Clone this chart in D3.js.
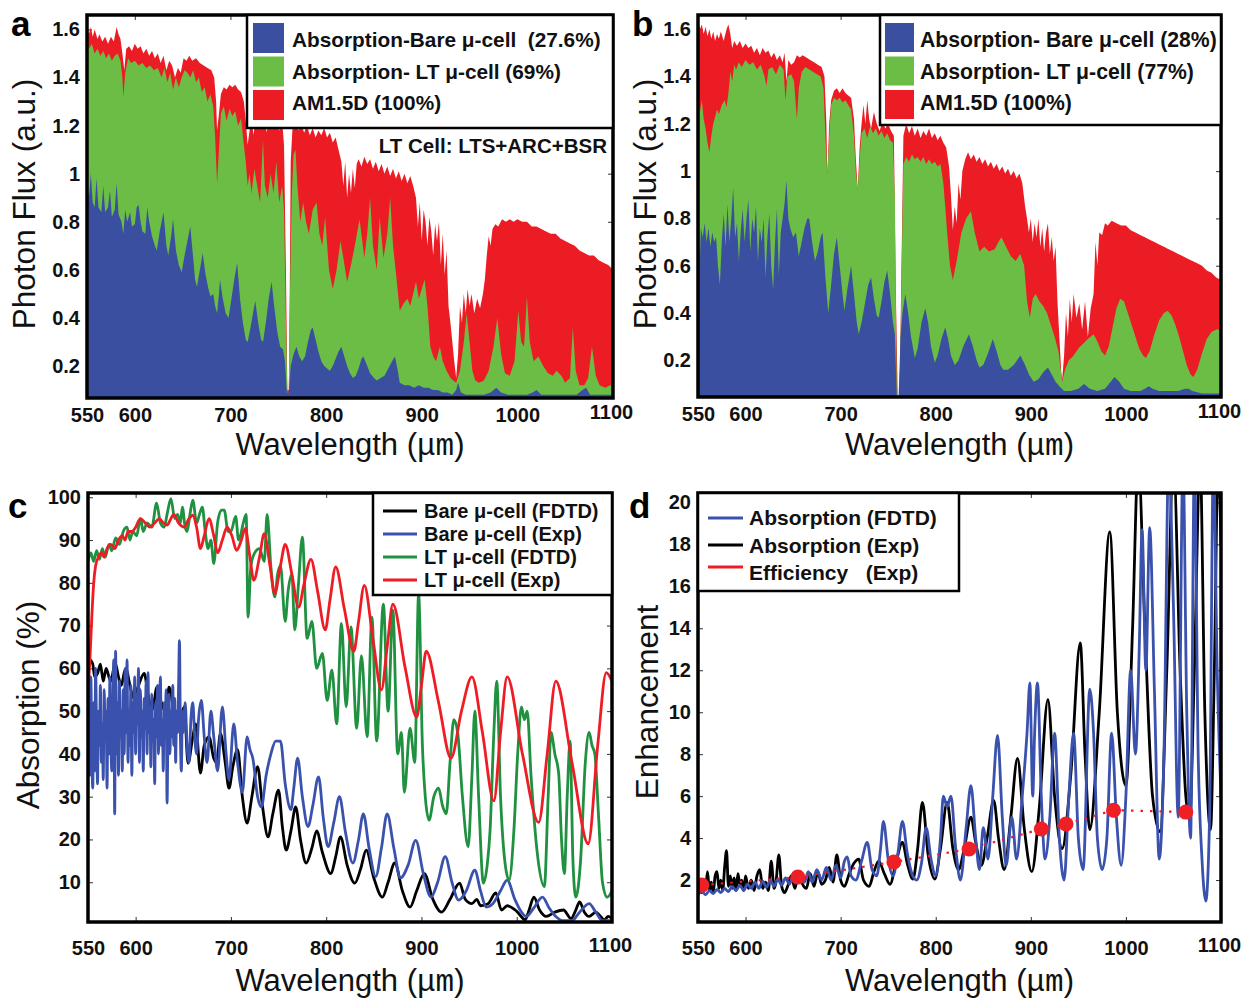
<!DOCTYPE html>
<html>
<head>
<meta charset="utf-8">
<script src="https://cdn.jsdelivr.net/npm/d3@7"></script>
<style>
  body { margin: 0; background: #fff; }
  text { font-family: Arial, "Liberation Sans", sans-serif; }
</style>
</head>
<body>
<script>
// ---------- tick values ----------
const xTickVals = [550, 600, 700, 800, 900, 1000, 1100];
const yTicksAB = [0.2, 0.4, 0.6, 0.8, 1, 1.2, 1.4, 1.6];
const yTicksC = [10, 20, 30, 40, 50, 60, 70, 80, 90, 100];
const yTicksD = [2, 4, 6, 8, 10, 12, 14, 16, 18, 20];

// ---------- panel a: photon flux [wavelength nm, flux a.u.] ----------
const am15A = [[550,1.63],[552,1.58],[554,1.61],[556,1.57],[558,1.60],[561,1.56],[563,1.58],[566,1.55],[569,1.57],[572,1.54],[575,1.57],[578,1.55],[581,1.61],[583,1.58],[585,1.56],[587,1.50],[589,1.43],[591,1.52],[594,1.53],[597,1.51],[600,1.54],[603,1.52],[606,1.53],[609,1.50],[612,1.52],[615,1.49],[618,1.51],[621,1.48],[624,1.50],[627,1.46],[630,1.49],[633,1.43],[636,1.47],[639,1.45],[642,1.40],[645,1.44],[648,1.42],[651,1.48],[654,1.47],[657,1.49],[660,1.47],[664,1.48],[668,1.46],[672,1.45],[676,1.44],[680,1.43],[683,1.40],[685,1.30],[686,1.18],[688,1.25],[690,1.33],[693,1.36],[696,1.35],[699,1.37],[702,1.36],[705,1.37],[708,1.35],[711,1.34],[714,1.30],[716,1.22],[718,1.12],[720,1.18],[722,1.24],[724,1.16],[726,1.22],[728,1.28],[730,1.20],[732,1.25],[734,1.30],[736,1.22],[738,1.17],[740,1.24],[742,1.20],[745,1.26],[748,1.21],[751,1.18],[754,1.22],[756,1.12],[758,0.60],[759.5,0.10],[761,0.10],[762,0.50],[763,1.05],[765,1.20],[768,1.25],[771,1.18],[774,1.21],[777,1.17],[780,1.20],[783,1.16],[786,1.19],[789,1.15],[792,1.18],[795,1.16],[798,1.19],[801,1.15],[804,1.17],[807,1.13],[810,1.15],[813,1.10],[816,1.05],[818,0.95],[820,1.05],[822,0.90],[824,1.00],[826,0.92],[828,1.02],[830,0.94],[832,1.04],[834,1.06],[837,1.03],[840,1.07],[843,1.04],[846,1.06],[849,1.02],[852,1.05],[855,1.01],[858,1.04],[861,1.00],[864,1.03],[867,0.99],[870,1.02],[873,0.98],[876,1.01],[879,0.97],[882,1.00],[885,0.96],[888,0.99],[891,0.95],[894,0.90],[896,0.78],[898,0.88],[900,0.72],[902,0.85],[904,0.80],[906,0.70],[908,0.82],[910,0.76],[912,0.66],[914,0.79],[916,0.72],[918,0.80],[920,0.62],[922,0.75],[924,0.58],[926,0.68],[928,0.45],[930,0.38],[932,0.30],[934,0.22],[936,0.15],[938,0.25],[940,0.45],[942,0.38],[944,0.50],[946,0.42],[948,0.52],[950,0.45],[952,0.50],[955,0.42],[958,0.48],[961,0.44],[964,0.50],[966,0.56],[968,0.66],[970,0.74],[972,0.70],[974,0.77],[977,0.79],[980,0.78],[984,0.81],[988,0.80],[992,0.81],[996,0.80],[1000,0.81],[1005,0.80],[1010,0.80],[1015,0.78],[1020,0.78],[1025,0.77],[1030,0.76],[1035,0.75],[1040,0.75],[1045,0.73],[1050,0.72],[1055,0.71],[1060,0.70],[1065,0.68],[1070,0.67],[1075,0.66],[1080,0.66],[1085,0.64],[1090,0.63],[1095,0.62],[1100,0.60]];

const ltA = [[550,1.56],[552,1.52],[555,1.54],[558,1.50],[561,1.52],[564,1.49],[567,1.51],[570,1.48],[573,1.50],[576,1.47],[579,1.49],[582,1.50],[585,1.47],[587,1.40],[588,1.32],[590,1.42],[593,1.48],[596,1.46],[600,1.47],[604,1.45],[608,1.46],[612,1.44],[616,1.45],[620,1.43],[624,1.44],[628,1.40],[631,1.44],[634,1.38],[637,1.42],[640,1.35],[643,1.40],[646,1.36],[649,1.40],[652,1.43],[655,1.42],[658,1.40],[661,1.43],[664,1.38],[667,1.40],[670,1.34],[673,1.36],[676,1.30],[679,1.33],[682,1.28],[684,1.15],[686,0.96],[688,1.10],[690,1.25],[693,1.28],[696,1.22],[699,1.27],[702,1.24],[705,1.26],[708,1.20],[711,1.23],[714,1.12],[716,1.05],[718,0.95],[720,1.00],[722,0.92],[725,1.02],[728,0.95],[731,0.88],[734,1.14],[736,0.95],[739,0.90],[742,1.00],[745,0.92],[748,1.05],[751,0.88],[754,0.95],[756,0.85],[758,0.40],[759.5,0.09],[761,0.09],[762,0.45],[764,0.90],[766,1.08],[768,1.10],[770,0.95],[773,0.80],[776,0.88],[779,0.80],[782,0.75],[786,0.85],[790,0.88],[793,0.75],[796,0.70],[799,0.82],[803,0.60],[807,0.52],[811,0.60],[815,0.72],[818,0.65],[822,0.55],[826,0.62],[830,0.70],[835,0.81],[840,0.65],[843,0.75],[846,0.90],[849,0.70],[853,0.60],[856,0.82],[860,0.65],[864,0.75],[867,0.90],[870,0.70],[874,0.55],[877,0.43],[881,0.46],[885,0.48],[888,0.45],[891,0.50],[894,0.55],[897,0.48],[900,0.52],[903,0.56],[906,0.45],[909,0.28],[912,0.24],[915,0.22],[919,0.28],[922,0.22],[926,0.18],[930,0.15],[933,0.14],[936,0.13],[940,0.18],[944,0.30],[947,0.42],[950,0.30],[953,0.18],[956,0.14],[960,0.13],[965,0.14],[970,0.18],[975,0.28],[979,0.40],[983,0.25],[987,0.17],[992,0.16],[997,0.22],[1001,0.43],[1004,0.30],[1007,0.28],[1010,0.49],[1013,0.30],[1017,0.22],[1022,0.24],[1027,0.20],[1032,0.17],[1037,0.16],[1041,0.18],[1046,0.16],[1050,0.13],[1055,0.15],[1058,0.36],[1061,0.18],[1065,0.12],[1070,0.12],[1074,0.15],[1078,0.28],[1082,0.16],[1086,0.12],[1092,0.11],[1097,0.12],[1100,0.12]];

const bareA = [[550,0.97],[552,0.90],[554,1.00],[556,0.88],[558,0.86],[560,0.98],[562,0.86],[565,0.84],[567,0.95],[569,0.84],[572,0.86],[574,0.93],[576,0.82],[579,0.85],[581,0.96],[583,0.83],[586,0.80],[588,0.75],[590,0.85],[592,0.80],[595,0.84],[597,0.78],[600,0.79],[602,0.86],[604,0.87],[606,0.80],[608,0.76],[611,0.75],[613,0.86],[615,0.80],[618,0.74],[621,0.70],[623,0.68],[626,0.76],[630,0.84],[633,0.70],[635,0.66],[638,0.74],[640,0.81],[643,0.68],[646,0.62],[649,0.59],[652,0.66],[655,0.72],[658,0.78],[661,0.65],[663,0.56],[665,0.53],[668,0.60],[671,0.67],[674,0.58],[677,0.52],[679,0.49],[682,0.50],[684,0.45],[686,0.42],[688,0.50],[689,0.56],[692,0.48],[695,0.42],[698,0.40],[701,0.48],[704,0.56],[707,0.63],[710,0.48],[713,0.38],[716,0.31],[718,0.30],[721,0.36],[724,0.43],[726,0.47],[729,0.38],[732,0.31],[734,0.30],[737,0.38],[740,0.48],[743,0.55],[746,0.44],[749,0.34],[752,0.28],[755,0.27],[757,0.22],[759,0.09],[761,0.09],[763,0.20],[766,0.25],[769,0.28],[772,0.24],[775,0.22],[778,0.24],[781,0.30],[784,0.35],[786,0.36],[789,0.31],[792,0.26],[795,0.22],[798,0.20],[801,0.19],[804,0.18],[807,0.20],[810,0.23],[813,0.26],[816,0.28],[819,0.24],[822,0.20],[825,0.17],[828,0.15],[831,0.16],[834,0.19],[837,0.23],[839,0.24],[842,0.21],[846,0.17],[850,0.15],[853,0.14],[857,0.15],[861,0.16],[865,0.19],[869,0.22],[872,0.24],[875,0.18],[877,0.13],[882,0.12],[887,0.12],[892,0.11],[897,0.12],[902,0.11],[907,0.11],[912,0.10],[917,0.10],[922,0.09],[927,0.09],[932,0.08],[936,0.10],[938,0.13],[941,0.09],[946,0.08],[955,0.08],[965,0.08],[972,0.09],[978,0.11],[983,0.09],[990,0.08],[1000,0.08],[1010,0.08],[1016,0.09],[1020,0.10],[1025,0.08],[1035,0.08],[1045,0.08],[1055,0.08],[1062,0.08],[1068,0.10],[1072,0.11],[1076,0.08],[1085,0.08],[1100,0.08]];

// ---------- panel b ----------
const am15B = [[550,1.64],[552,1.60],[554,1.62],[556,1.58],[558,1.61],[560,1.57],[562,1.60],[564,1.56],[566,1.59],[568,1.55],[570,1.58],[572,1.56],[574,1.59],[577,1.55],[580,1.60],[582,1.62],[584,1.58],[586,1.52],[588,1.55],[591,1.53],[594,1.55],[597,1.52],[600,1.54],[603,1.52],[606,1.53],[609,1.50],[612,1.52],[615,1.49],[618,1.52],[621,1.50],[624,1.51],[627,1.48],[630,1.50],[633,1.47],[636,1.49],[639,1.46],[641,1.50],[643,1.38],[645,1.47],[648,1.45],[651,1.46],[654,1.49],[657,1.48],[660,1.49],[664,1.48],[668,1.47],[672,1.46],[676,1.45],[680,1.44],[683,1.40],[685,1.20],[686,0.98],[688,1.20],[690,1.30],[693,1.34],[696,1.35],[699,1.33],[702,1.35],[705,1.33],[708,1.32],[711,1.31],[714,1.22],[716,1.05],[718,0.92],[720,1.10],[722,1.20],[724,1.28],[726,1.20],[728,1.30],[730,1.22],[732,1.18],[735,1.25],[738,1.20],[741,1.17],[744,1.21],[747,1.18],[750,1.20],[753,1.17],[756,1.15],[758,0.50],[760,0.05],[762,0.05],[764,0.60],[766,1.15],[769,1.20],[772,1.16],[775,1.19],[778,1.15],[781,1.18],[784,1.14],[787,1.17],[790,1.15],[793,1.18],[796,1.14],[799,1.16],[802,1.13],[805,1.15],[808,1.12],[811,1.10],[814,1.02],[816,0.90],[818,0.75],[820,0.85],[822,0.78],[824,0.95],[826,0.88],[828,1.00],[831,1.05],[834,1.08],[837,1.05],[840,1.07],[843,1.04],[846,1.06],[849,1.03],[852,1.05],[855,1.02],[858,1.04],[861,1.01],[864,1.03],[867,1.00],[870,1.02],[873,0.99],[876,1.01],[879,0.98],[882,1.00],[885,0.97],[888,0.99],[891,0.95],[894,0.85],[896,0.80],[898,0.74],[900,0.80],[902,0.70],[904,0.78],[906,0.72],[908,0.80],[910,0.68],[912,0.76],[914,0.66],[916,0.74],[918,0.78],[920,0.65],[922,0.72],[924,0.62],[926,0.68],[928,0.45],[930,0.30],[932,0.15],[933,0.12],[935,0.22],[937,0.40],[939,0.30],[941,0.46],[943,0.36],[945,0.48],[948,0.38],[951,0.44],[954,0.33],[957,0.45],[960,0.30],[963,0.42],[966,0.48],[968,0.70],[970,0.60],[972,0.74],[975,0.73],[978,0.78],[981,0.77],[985,0.79],[990,0.78],[995,0.77],[1000,0.77],[1005,0.75],[1010,0.74],[1015,0.73],[1020,0.72],[1025,0.71],[1030,0.70],[1035,0.69],[1040,0.68],[1045,0.67],[1050,0.66],[1055,0.65],[1060,0.64],[1065,0.63],[1070,0.62],[1075,0.61],[1080,0.60],[1085,0.58],[1090,0.57],[1095,0.55],[1100,0.54]];

const ltB = [[550,1.28],[552,1.25],[554,1.30],[556,1.22],[558,1.18],[560,1.12],[562,1.08],[564,1.15],[566,1.20],[568,1.23],[570,1.26],[572,1.24],[575,1.28],[578,1.30],[580,1.27],[582,1.33],[584,1.42],[586,1.38],[588,1.45],[590,1.43],[593,1.46],[596,1.44],[600,1.47],[604,1.45],[608,1.46],[612,1.43],[616,1.45],[620,1.40],[622,1.36],[624,1.43],[628,1.44],[632,1.41],[636,1.45],[640,1.43],[642,1.30],[644,1.40],[648,1.41],[651,1.38],[654,1.22],[656,1.35],[659,1.42],[663,1.44],[667,1.43],[671,1.42],[675,1.41],[679,1.40],[682,1.35],[684,1.15],[686,0.98],[688,1.15],[690,1.28],[693,1.31],[696,1.30],[699,1.31],[702,1.29],[705,1.30],[708,1.28],[711,1.26],[714,1.15],[716,1.00],[718,0.92],[720,1.05],[722,1.16],[725,1.18],[728,1.14],[731,1.19],[734,1.16],[737,1.18],[740,1.15],[743,1.17],[746,1.14],[749,1.16],[752,1.13],[755,1.12],[757,0.90],[759,0.06],[762,0.05],[764,0.55],[766,1.03],[769,1.06],[772,1.04],[775,1.07],[778,1.05],[781,1.06],[784,1.04],[787,1.06],[790,1.03],[793,1.05],[796,1.03],[799,1.04],[802,1.02],[805,1.03],[808,0.95],[810,0.85],[812,0.74],[815,0.60],[818,0.54],[822,0.62],[827,0.74],[832,0.80],[837,0.83],[841,0.74],[846,0.66],[851,0.68],[856,0.66],[862,0.67],[866,0.70],[869,0.72],[874,0.68],[879,0.64],[884,0.62],[889,0.65],[893,0.60],[896,0.45],[899,0.38],[902,0.46],[905,0.48],[909,0.45],[913,0.43],[917,0.40],[921,0.35],[925,0.30],[929,0.24],[933,0.11],[936,0.16],[940,0.20],[945,0.22],[950,0.25],[955,0.27],[960,0.29],[966,0.31],[970,0.28],[974,0.24],[978,0.22],[982,0.26],[986,0.34],[990,0.42],[994,0.46],[998,0.45],[1002,0.40],[1006,0.35],[1010,0.30],[1014,0.25],[1018,0.22],[1021,0.21],[1025,0.24],[1030,0.31],[1035,0.37],[1040,0.40],[1044,0.41],[1048,0.39],[1052,0.35],[1056,0.30],[1060,0.24],[1064,0.18],[1068,0.14],[1071,0.13],[1075,0.16],[1080,0.23],[1085,0.29],[1090,0.32],[1095,0.33],[1100,0.33]];

const bareB = [[550,0.70],[551,0.80],[552,0.62],[553,0.76],[555,0.72],[557,0.78],[559,0.70],[561,0.76],[563,0.68],[565,0.74],[567,0.70],[569,0.72],[571,0.60],[573,0.52],[575,0.70],[577,0.82],[579,0.68],[581,0.86],[583,0.70],[585,0.80],[587,0.93],[589,0.72],[591,0.78],[593,0.62],[595,0.75],[597,0.84],[599,0.70],[601,0.80],[603,0.88],[605,0.66],[607,0.80],[609,0.74],[611,0.85],[613,0.62],[615,0.76],[617,0.70],[619,0.80],[621,0.55],[623,0.72],[625,0.82],[627,0.60],[629,0.50],[631,0.70],[633,0.84],[635,0.56],[637,0.74],[639,0.80],[641,0.86],[643,0.96],[645,0.80],[647,0.76],[650,0.72],[653,0.74],[656,0.64],[659,0.70],[662,0.76],[665,0.80],[667,0.80],[670,0.70],[673,0.62],[676,0.66],[679,0.72],[681,0.74],[684,0.55],[687,0.40],[690,0.52],[693,0.65],[696,0.72],[699,0.60],[702,0.48],[704,0.41],[707,0.50],[711,0.60],[714,0.48],[717,0.36],[719,0.31],[722,0.36],[726,0.45],[729,0.52],[732,0.55],[735,0.46],[738,0.39],[740,0.38],[743,0.45],[746,0.53],[749,0.58],[752,0.48],[755,0.36],[757,0.31],[759,0.05],[761,0.05],[763,0.30],[765,0.40],[768,0.48],[771,0.40],[774,0.30],[778,0.21],[781,0.25],[785,0.36],[789,0.42],[792,0.36],[795,0.26],[799,0.19],[802,0.22],[806,0.29],[810,0.34],[813,0.29],[816,0.22],[820,0.18],[824,0.20],[829,0.26],[835,0.31],[839,0.26],[843,0.20],[846,0.17],[850,0.18],[855,0.23],[860,0.29],[864,0.24],[868,0.18],[871,0.16],[876,0.16],[882,0.18],[889,0.22],[894,0.18],[898,0.14],[903,0.11],[908,0.12],[913,0.15],[918,0.17],[922,0.14],[926,0.11],[930,0.09],[935,0.07],[942,0.07],[950,0.08],[956,0.10],[962,0.08],[970,0.07],[978,0.08],[984,0.11],[988,0.13],[993,0.11],[998,0.08],[1005,0.07],[1015,0.07],[1020,0.08],[1024,0.09],[1028,0.08],[1035,0.07],[1045,0.07],[1055,0.07],[1062,0.08],[1066,0.08],[1070,0.07],[1080,0.06],[1090,0.06],[1100,0.06]];

// ---------- panel c: absorption (%) ----------
const bareFdtdC = [[550,60],[552,62],[555,61],[557,58],[560,58.8],[563,61],[566,57],[569,60],[572,58],[574,57],[577,60],[579,61],[582,58],[585,56],[588,59],[590,60],[594,56],[598,53],[603,56],[609,58.8],[613,54],[617,50],[620,53],[622,55.6],[627,52],[632,49.5],[635,55.6],[640,50],[644,46],[648,49],[651,51],[655,37.8],[660,44],[663,47],[668,35.5],[672,42],[677,44],[682,39],[685,38],[689,44.8],[694,38],[698,32],[702,37],[707,41],[712,30],[717,23.8],[722,30],[728,37],[733,28],[739,20.6],[744,26],[750,31.5],[754,23],[758,17.5],[763,22],[768,27.6],[773,20],[779,14.5],[785,18],[790,22],[796,17],[805,12],[810,16],[815,20.6],[822,14],[830,9.8],[836,13],[842,17.5],[850,11],[859,6.5],[865,10],[872,14.5],[880,8],[888,4.2],[895,8],[903,12],[912,6],[921,3],[930,6],[940,9.8],[946,6],[953,5],[958,6],[962,4.5],[970,5],[978,7.5],[984,3.5],[990,4.5],[1000,3.2],[1009,1.2],[1013,3.5],[1018,6.5],[1024,3.5],[1031,2],[1040,3],[1049,3.5],[1057,1.5],[1062,3.5],[1066,5.4],[1071,3],[1076,2],[1083,3],[1088,2],[1092,1.2],[1096,2],[1100,1.5]];

const bareExpC = [[550,38],[551,55],[552,35],[553,58],[554,40],[555,32],[556,52],[557,36],[558,60],[559,45],[560,33],[561,50],[562,42],[563,56],[564,38],[565,47],[566,34],[567,55],[568,44],[569,50],[570,32],[571,53],[572,40],[573,58],[574,43],[575,36],[576,48],[577,62],[578,26],[579,64],[580,40],[581,52],[582,35],[583,57],[584,44],[585,50],[586,36],[587,55],[588,40],[589,60],[590,45],[591,62],[592,38],[593,50],[594,42],[595,56],[596,35],[597,52],[598,45],[599,58],[600,40],[601,54],[602,47],[603,60],[604,38],[605,55],[606,44],[607,50],[608,36],[609,53],[610,46],[611,57],[612,40],[613,59],[614,45],[615,51],[616,37],[617,54],[618,43],[619,48],[620,33],[621,52],[622,44],[623,56],[624,40],[625,50],[626,58],[627,42],[628,48],[629,36],[630,52],[631,45],[632,55],[633,28.5],[634,47],[635,54],[636,40],[637,50],[638,44],[639,56],[640,42],[641,53],[642,38],[643,50],[644,45],[645,55],[646,66.5],[647,44],[648,36],[649,50],[650,45],[652,52],[654,42],[656,38],[658,48],[660,52],[662,44],[664,40],[666,48],[669,52.5],[672,44],[675,38],[679,50],[682,44],[686,36],[691,51],[695,40],[698,34],[703,47],[707,38],[712,31],[717,44],[720,41],[723,39],[728,30],[732,27.6],[737,35],[742,40],[747,43],[752,43],[757,33],[763,27],[766,32],[770,39],[775,30],[781,23],[786,28],[792,34.6],[797,25],[802,18.3],[808,24],[814,30],[820,22],[828,14.5],[834,20],[839,26],[845,18],[852,11.3],[858,18],[864,26],[871,18],[878,11],[886,14],[894,19.8],[902,12],[910,6.5],[917,10],[925,16],[932,10],[939,5.8],[947,8],[956,12.8],[962,8],[968,4.2],[975,5],[983,8],[990,10.5],[998,6],[1005,3],[1010,2],[1018,4],[1027,6.5],[1034,4],[1041,2],[1049,1],[1058,1],[1066,3],[1076,5],[1083,3],[1090,1],[1100,1]];

const ltFdtdC = [[550,85],[553,87],[556,85],[559,87.5],[562,85.5],[565,88],[568,86],[572,89],[575,87.5],[579,90.5],[583,89],[587,92],[591,93],[594,90],[597,92],[601,91],[605,95],[608,92],[612,94],[617,93],[622,98.6],[626,94],[630,93],[633,96],[637,99.7],[641,95],[644,96],[647,94],[649,97.7],[652,93],[654,92],[657,96],[660,99.3],[664,94],[667,96],[670,97.7],[673,92],[676,88],[679,90],[682,84.5],[686,94],[690,97],[693,97],[697,92],[700,92],[705,95.5],[708,90],[710,91],[713,94],[716,96],[718,72],[721,84],[725,87],[730,88],[735,85],[738,96],[742,83.6],[746,76.7],[749,82],[752,84],[757,71],[760,78],[764,82],[767,69],[771,80],[775,90.7],[780,67],[785,71],[790,60],[796,63.5],[801,52.5],[806,59.6],[811,47],[816,70.5],[821,51],[826,69.7],[832,46],[837,63],[843,44],[848,72],[853,43],[860,75],[865,50],[870,73.6],[875,40],[879,45],[882,31],[888,46],[893,38],[897,77.5],[901,42],[904,30],[908,24.5],[913,30],[918,32],[922,28],[926,26],[930,38],[934,48],[938,45],[943,30],[949,18.3],[953,35],[956,50],[960,30],[965,9.8],[969,14],[972,22],[976,45],[979,57],[983,30],[988,14],[992,10.5],[997,22],[1001,40],[1005,51],[1008,48],[1011,50],[1015,35],[1022,16],[1029,9],[1033,30],[1036,45],[1040,40],[1044,35.5],[1047,20],[1050,12],[1053,30],[1056,43],[1059,15],[1062,6.5],[1067,15],[1072,38],[1076,45],[1079,42],[1082,40],[1086,25],[1090,10],[1095,6.5],[1100,8]];

const ltExpC = [[550,55],[552,62],[554,72],[556,80],[558,84],[561,86],[564,87],[567,86],[570,88],[574,89],[578,88],[582,90],[586,91],[589,90],[592,92],[596,92],[600,93],[605,95],[610,94],[615,93],[620,94],[625,95],[629,94],[633,93.5],[637,95],[640,96],[645,94],[651,93],[656,95],[660,95.8],[664,93],[668,88],[672,91],[677,95],[682,91],[686,87],[691,90],[696,93],[701,91],[706,87.6],[711,90],[715,92.7],[720,86],[724,80.6],[730,86],[735,91.5],[741,84],[746,77.5],[752,84],[757,89],[764,82],[771,74.3],[777,80],[784,85.5],[791,78],[799,69],[804,76],[810,83.7],[819,74],[829,64],[834,71],[840,79.4],[849,67],[858,55],[864,65],[870,75],[883,60],[895,48.6],[900,56],[905,64],[918,52],[931,39],[942,50],[953,58],[964,45],[976,29],[983,45],[990,58],[1006,40],[1023,24],[1032,40],[1041,57],[1058,38],[1075,19],[1085,42],[1094,59],[1100,57]];

// ---------- panel d: enhancement ----------
const absFdtdD = [[550,1.3],[554,1.45],[558,1.3],[562,1.5],[566,1.35],[570,1.55],[574,1.4],[578,1.6],[582,1.45],[586,1.7],[590,1.5],[594,1.75],[598,1.5],[602,1.8],[606,1.6],[610,1.9],[614,1.6],[618,1.95],[622,1.65],[626,2.0],[630,1.7],[634,2.05],[638,1.75],[642,2.1],[646,1.8],[650,2.2],[654,1.85],[658,2.3],[662,1.9],[666,2.4],[670,1.9],[675,2.5],[680,2.0],[685,2.6],[690,2.0],[695,2.7],[700,2.1],[704,2.9],[707,3.1],[711,2.2],[716,2.0],[722,2.9],[728,3.8],[733,2.5],[738,2.2],[742,3.5],[745,4.8],[750,3.0],[755,2.2],[760,3.2],[765,4.8],[770,3.3],[775,2.3],[780,2.0],[785,2.8],[790,4.5],[795,3.0],[800,2.2],[805,4.0],[808,6.0],[812,5.5],[816,6.0],[821,3.5],[826,2.0],[832,4.5],[837,6.5],[842,4.0],[846,2.5],[850,4.5],[855,3.0],[860,6.0],[865,8.9],[870,5],[874,2.7],[880,5],[885,3],[891,6],[896,9],[899,11.4],[902,6],[904,9],[907,11.4],[911,6],[915,3],[920,5],[925,9],[930,4],[935,2],[940,6],[945,9],[950,4],[955,2.5],[962,11.1],[966,9],[970,4],[975,2.5],[980,4],[985,9],[990,5],[995,2.7],[1000,6],[1005,12],[1010,8],[1014,13],[1017,18.7],[1021,12],[1025,18.8],[1030,11],[1035,3],[1040,8],[1045,22],[1050,15],[1055,5],[1060,22],[1064,10],[1068,4],[1072,22],[1076,8],[1080,3],[1084,1.0],[1088,5],[1092,22],[1096,12],[1100,6]];

const absExpD = [[550,1.5],[552,1.8],[554,1.4],[556,2.0],[558,1.6],[560,2.4],[562,1.5],[564,1.9],[566,1.4],[568,2.2],[570,2.4],[572,1.6],[574,2.0],[576,1.5],[578,2.6],[580,3.4],[582,1.7],[584,2.2],[586,1.6],[588,2.1],[590,1.5],[592,2.3],[594,1.8],[596,2.0],[598,1.5],[600,2.2],[603,1.6],[606,2.0],[609,1.5],[612,2.2],[615,2.5],[618,1.6],[621,1.9],[624,1.5],[627,2.9],[630,1.6],[632,1.9],[635,3.2],[638,1.7],[641,1.4],[645,1.8],[648,2.2],[652,1.6],[656,2.4],[660,1.8],[664,1.6],[668,2.3],[672,1.7],[676,2.4],[680,1.8],[684,2.0],[688,2.6],[692,1.9],[696,3.2],[700,2.0],[704,1.7],[709,2.3],[714,2.8],[719,3.0],[724,2.0],[730,1.7],[735,2.4],[740,2.9],[746,2.3],[752,1.8],[758,2.8],[765,3.8],[770,2.8],[776,2.05],[781,3.5],[786,5.7],[792,3.2],[799,2.05],[805,3.5],[812,5.7],[818,3.5],[824,2.5],[830,3.5],[837,5.0],[842,3.8],[848,2.7],[854,4.0],[861,5.8],[866,4.0],[872,2.5],[879,5.0],[886,7.8],[893,4.5],[901,2.4],[909,5.5],[918,10.6],[925,6],[933,3.5],[942,7],[952,13.3],[957,8],[962,4.4],[972,10],[983,18.6],[991,10],[1000,6.5],[1007,14],[1013,22],[1020,14],[1028,6],[1036,4.3],[1043,12],[1050,22],[1057,12],[1063,6],[1067,4.9],[1072,12],[1078,22],[1083,10],[1089,4.4],[1093,12],[1097,22],[1100,18]];

const effWl = [554, 655, 756, 835, 911, 937, 987, 1063];
const effVal = [1.76, 2.14, 2.86, 3.48, 4.43, 4.67, 5.33, 5.24];

// ---------- colours ----------
const C = {
  blueArea: '#3b4fa1', greenArea: '#6bbd45', redArea: '#ec1c24',
  black: '#000', blueLine: '#3a52ad', greenLine: '#1f9140', redLine: '#ee1d25'
};

const svg = d3.select('body').append('svg').attr('width', 1245).attr('height', 1001);
const defs = svg.append('defs');

function makePanel(p) {
  const x = d3.scaleLinear().domain([550, 1100]).range([p.left, p.right]);
  const y = d3.scaleLinear().domain(p.yDomain).range([p.bottom, p.top]);
  const g = svg.append('g');

  defs.append('clipPath').attr('id', 'clip-' + p.id)
    .append('rect')
    .attr('x', p.left).attr('y', p.top)
    .attr('width', p.right - p.left).attr('height', p.bottom - p.top);

  // small inward ticks on all four sides (under the data)
  const tk = g.append('g').attr('class', 'inner-ticks');
  tk.append('g').attr('transform', `translate(0,${p.bottom})`)
    .call(d3.axisBottom(x).tickValues(xTickVals).tickSizeInner(-5).tickSizeOuter(0).tickFormat(''));
  tk.append('g').attr('transform', `translate(0,${p.top})`)
    .call(d3.axisTop(x).tickValues(xTickVals).tickSizeInner(-5).tickSizeOuter(0).tickFormat(''));
  tk.append('g').attr('transform', `translate(${p.left},0)`)
    .call(d3.axisLeft(y).tickValues(p.yTicks).tickSizeInner(-5).tickSizeOuter(0).tickFormat(''));
  tk.append('g').attr('transform', `translate(${p.right},0)`)
    .call(d3.axisRight(y).tickValues(p.yTicks).tickSizeInner(-5).tickSizeOuter(0).tickFormat(''));
  tk.selectAll('.domain').remove();
  tk.selectAll('line').attr('stroke', '#333').attr('stroke-width', 1);

  const plot = g.append('g').attr('clip-path', `url(#clip-${p.id})`);
  return { x, y, g, plot, p };
}

function finishPanel(P) {
  const { x, y, g, p } = P;
  g.append('rect')
    .attr('x', p.left).attr('y', p.top)
    .attr('width', p.right - p.left).attr('height', p.bottom - p.top)
    .attr('fill', 'none').attr('stroke', '#000').attr('stroke-width', 3.5);

  const xa = g.append('g').attr('transform', `translate(0,${p.bottom})`)
    .call(d3.axisBottom(x).tickValues(xTickVals).tickSize(0).tickPadding(p.xPad).tickFormat(d3.format('d')));
  const ya = g.append('g').attr('transform', `translate(${p.left},0)`)
    .call(d3.axisLeft(y).tickValues(p.yTicks).tickSize(0).tickPadding(7).tickFormat(p.yFmt));
  [xa, ya].forEach(a => {
    a.select('.domain').remove();
    a.selectAll('text').attr('font-size', 20).attr('font-weight', 'bold').attr('fill', '#111')
      .attr('font-family', 'Arial, "Liberation Sans", sans-serif');
  });
  xa.selectAll('text').filter(d => d === 1100).attr('transform', 'translate(-2,-3)');

  // axis titles
  const xl = g.append('text')
    .attr('x', (p.left + p.right) / 2).attr('y', p.xLabelY)
    .attr('text-anchor', 'middle').attr('font-size', 31).attr('fill', '#111');
  xl.append('tspan').text('Wavelength (');
  xl.append('tspan').attr('font-family', '"Liberation Mono", "DejaVu Sans Mono", monospace').text('\u03bcm');
  xl.append('tspan').text(')');

  g.append('text')
    .attr('transform', `translate(${p.yLabelX},${p.yLabelY}) rotate(-90)`)
    .attr('text-anchor', 'middle').attr('font-size', 31.5).attr('fill', '#111')
    .text(p.yLabel);

  g.append('text').attr('x', p.letterX).attr('y', p.letterY)
    .attr('font-size', 35).attr('font-weight', 'bold').attr('fill', '#000')
    .text(p.letter);
}

function areaLayer(P, data, color) {
  const area = d3.area()
    .x(d => P.x(d[0]))
    .y0(P.p.bottom)
    .y1(d => P.y(d[1]));
  P.plot.append('path').datum(data).attr('d', area).attr('fill', color);
}

function lineLayer(P, data, color, width) {
  const line = d3.line().x(d => P.x(d[0])).y(d => P.y(d[1])).curve(d3.curveMonotoneX);
  P.plot.append('path').datum(data).attr('d', line)
    .attr('fill', 'none').attr('stroke', color).attr('stroke-width', width)
    .attr('stroke-linejoin', 'round');
}

function legendBox(g, x, y, w, h) {
  g.append('rect').attr('x', x).attr('y', y).attr('width', w).attr('height', h)
    .attr('fill', '#fff').attr('stroke', '#000').attr('stroke-width', 2.5);
}

function legendText(g, x, y, str, size) {
  g.append('text').attr('x', x).attr('y', y).attr('font-size', size)
    .attr('font-weight', 'bold').attr('fill', '#111')
    .style('white-space', 'pre').text(str);
}

const fmtAB = d => (d === 1 ? '1' : d3.format('.1f')(d));
const swatchColors = [C.blueArea, C.greenArea, C.redArea];

// ---------- panel a ----------
const A = makePanel({ id: 'a', left: 87, right: 613, top: 15, bottom: 398, yDomain: [0.067, 1.66],
  yTicks: yTicksAB, yFmt: fmtAB, xPad: 10, xLabelY: 455, yLabel: 'Photon Flux (a.u.)',
  yLabelX: 35, yLabelY: 204, letter: 'a', letterX: 11, letterY: 36 });
areaLayer(A, am15A, C.redArea);
areaLayer(A, ltA, C.greenArea);
areaLayer(A, bareA, C.blueArea);
finishPanel(A);
legendBox(A.g, 247, 15, 366, 113);
const legA = ['Absorption-Bare \u03bc-cell  (27.6%)', 'Absorption- LT \u03bc-cell (69%)', 'AM1.5D (100%)'];
legA.forEach((t, i) => {
  A.g.append('rect').attr('x', 253).attr('y', 23 + i * 33.5).attr('width', 31).attr('height', 30).attr('fill', swatchColors[i]);
  legendText(A.g, 292, 47 + i * 31.5, t, 20.8);
});
A.g.append('text').attr('x', 607).attr('y', 153).attr('text-anchor', 'end')
  .attr('font-size', 20.5).attr('font-weight', 'bold').attr('fill', '#111')
  .text('LT Cell: LTS+ARC+BSR');

// ---------- panel b ----------
const B = makePanel({ id: 'b', left: 698, right: 1221, top: 15, bottom: 397, yDomain: [0.045, 1.66],
  yTicks: yTicksAB, yFmt: fmtAB, xPad: 10, xLabelY: 455, yLabel: 'Photon Flux (a.u.)',
  yLabelX: 656, yLabelY: 204, letter: 'b', letterX: 632, letterY: 36 });
areaLayer(B, am15B, C.redArea);
areaLayer(B, ltB, C.greenArea);
areaLayer(B, bareB, C.blueArea);
finishPanel(B);
legendBox(B.g, 880, 15, 341, 110);
const legB = ['Absorption- Bare \u03bc-cell (28%)', 'Absorption- LT \u03bc-cell (77%)', 'AM1.5D (100%)'];
legB.forEach((t, i) => {
  B.g.append('rect').attr('x', 885).attr('y', 23 + i * 33.5).attr('width', 29).attr('height', 29).attr('fill', swatchColors[i]);
  legendText(B.g, 920, 47 + i * 31.5, t, 21.2);
});

// ---------- panel c ----------
const Cp = makePanel({ id: 'c', left: 88, right: 612, top: 493, bottom: 922, yDomain: [0.7, 101],
  yTicks: yTicksC, yFmt: d3.format('d'), xPad: 19, xLabelY: 991, yLabel: 'Absorption (%)',
  yLabelX: 39, yLabelY: 705, letter: 'c', letterX: 8, letterY: 518 });
lineLayer(Cp, bareFdtdC, C.black, 2.8);
lineLayer(Cp, bareExpC, C.blueLine, 2.8);
lineLayer(Cp, ltFdtdC, C.greenLine, 2.8);
lineLayer(Cp, ltExpC, C.redLine, 2.8);
finishPanel(Cp);
legendBox(Cp.g, 373, 493, 239, 102);
const legCNames = ['Bare \u03bc-cell (FDTD)', 'Bare \u03bc-cell (Exp)', 'LT \u03bc-cell (FDTD)', 'LT \u03bc-cell (Exp)'];
const legCColors = [C.black, C.blueLine, C.greenLine, C.redLine];
legCNames.forEach((t, i) => {
  Cp.g.append('line').attr('x1', 383).attr('x2', 417).attr('y1', 511 + i * 23).attr('y2', 511 + i * 23)
    .attr('stroke', legCColors[i]).attr('stroke-width', 3);
  legendText(Cp.g, 424, 518 + i * 23, t, 20);
});

// ---------- panel d ----------
const D = makePanel({ id: 'd', left: 698, right: 1221, top: 493, bottom: 922, yDomain: [0, 20.45],
  yTicks: yTicksD, yFmt: d3.format('d'), xPad: 19, xLabelY: 991, yLabel: 'Enhancement',
  yLabelX: 658, yLabelY: 702, letter: 'd', letterX: 629, letterY: 518 });
lineLayer(D, absExpD, C.black, 2.8);
lineLayer(D, absFdtdD, C.blueLine, 2.8);
const effPts = effWl.map((w, i) => [w, effVal[i]]);
D.plot.append('path').datum(effPts)
  .attr('d', d3.line().x(d => D.x(d[0])).y(d => D.y(d[1])))
  .attr('fill', 'none').attr('stroke', C.redLine).attr('stroke-width', 2.2)
  .attr('stroke-dasharray', '2.5,7');
D.plot.selectAll('circle.eff').data(effPts).join('circle').attr('class', 'eff')
  .attr('cx', d => D.x(d[0])).attr('cy', d => D.y(d[1])).attr('r', 7.5).attr('fill', '#ee2026');
finishPanel(D);
legendBox(D.g, 698, 493, 261, 98);
const legDNames = ['Absorption (FDTD)', 'Absorption (Exp)', 'Efficiency   (Exp)'];
const legDColors = [C.blueLine, C.black, C.redLine];
legDNames.forEach((t, i) => {
  const ly = [518, 545, 567][i];
  D.g.append('line').attr('x1', 708).attr('x2', 743).attr('y1', ly).attr('y2', ly)
    .attr('stroke', legDColors[i]).attr('stroke-width', 3);
  legendText(D.g, 749, 525 + i * 27.5, t, 21);
});
</script>
</body>
</html>
